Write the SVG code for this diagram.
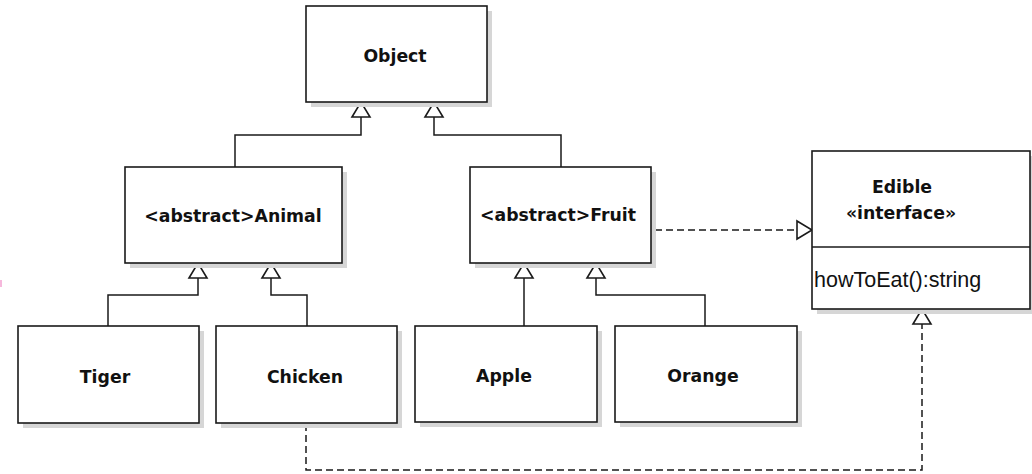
<svg xmlns="http://www.w3.org/2000/svg" width="1032" height="474" viewBox="0 0 1032 474">
  <style>
    .shadow { fill: #d6d6d6; }
    .box { fill: #ffffff; stroke: #1a1a1a; stroke-width: 1.6; }
    .label { font-family: "DejaVu Sans", "Liberation Sans", sans-serif; font-weight: bold; font-size: 17.3px; fill: #111; text-anchor: middle; }
    .member { font-family: "Liberation Sans", Arial, sans-serif; font-size: 21.5px; fill: #111; }
    .edge { fill: none; stroke: #1a1a1a; stroke-width: 1.5; marker-end: url(#hollow); }
    .dashed { stroke-dasharray: 7 4; }
  </style>
  <defs>
    <!-- hollow triangle for generalization / realization -->
    <marker id="hollow" viewBox="-3 -3 21 24" refX="15" refY="9" markerWidth="21" markerHeight="24" markerUnits="userSpaceOnUse" orient="auto">
      <path d="M0,0 L15,9 L0,18 Z" fill="#ffffff" stroke="#1a1a1a" stroke-width="1.6" stroke-linejoin="miter"/>
    </marker>
  </defs>

  <rect width="1032" height="474" fill="#ffffff"/>
  <rect x="0" y="280" width="2" height="7" fill="#f6b8dc"/>

  <g id="connectors">
    <path class="edge" d="M235,167 V135 H361 V102"/>
    <path class="edge" d="M561,167 V135 H434 V102"/>
    <path class="edge" d="M108,326 V295 H198 V263"/>
    <path class="edge" d="M307,326 V295 H271 V263"/>
    <path class="edge" d="M524,326 V263"/>
    <path class="edge" d="M705,326 V295 H596 V263"/>
    <path class="edge dashed" d="M655,230 H812"/>
    <path class="edge dashed" d="M306,424 V470 H922 V309"/>
  </g>

  <g id="object">
    <rect class="shadow" x="311" y="11" width="181" height="96"/>
    <rect class="box" x="306" y="6" width="181" height="96"/>
    <text class="label" x="395" y="62">Object</text>
  </g>

  <g id="animal">
    <rect class="shadow" x="130" y="172" width="217" height="96"/>
    <rect class="box" x="125" y="167" width="217" height="96"/>
    <text class="label" x="233" y="222">&lt;abstract&gt;Animal</text>
  </g>

  <g id="fruit">
    <rect class="shadow" x="475" y="172" width="181" height="96"/>
    <rect class="box" x="470" y="167" width="181" height="96"/>
    <text class="label" x="558" y="221">&lt;abstract&gt;Fruit</text>
  </g>

  <g id="edible">
    <rect class="shadow" x="817" y="156" width="218" height="158"/>
    <rect class="box" x="812" y="151" width="218" height="158"/>
    <line x1="812" y1="247" x2="1030" y2="247" stroke="#1a1a1a" stroke-width="1.6"/>
    <text class="label" x="902" y="193">Edible</text>
    <text class="label" x="901" y="219">«interface»</text>
    <text class="member" x="814" y="287">howToEat():string</text>
  </g>

  <g id="tiger">
    <rect class="shadow" x="23" y="331" width="181" height="97"/>
    <rect class="box" x="18" y="326" width="181" height="97"/>
    <text class="label" x="105" y="383">Tiger</text>
  </g>

  <g id="chicken">
    <rect class="shadow" x="221" y="331" width="181" height="97"/>
    <rect class="box" x="216" y="326" width="181" height="97"/>
    <text class="label" x="305" y="383">Chicken</text>
  </g>

  <g id="apple">
    <rect class="shadow" x="420" y="331" width="182" height="96"/>
    <rect class="box" x="415" y="326" width="182" height="96"/>
    <text class="label" x="504" y="382">Apple</text>
  </g>

  <g id="orange">
    <rect class="shadow" x="620" y="331" width="182" height="96"/>
    <rect class="box" x="615" y="326" width="182" height="96"/>
    <text class="label" x="703" y="382">Orange</text>
  </g>
</svg>
